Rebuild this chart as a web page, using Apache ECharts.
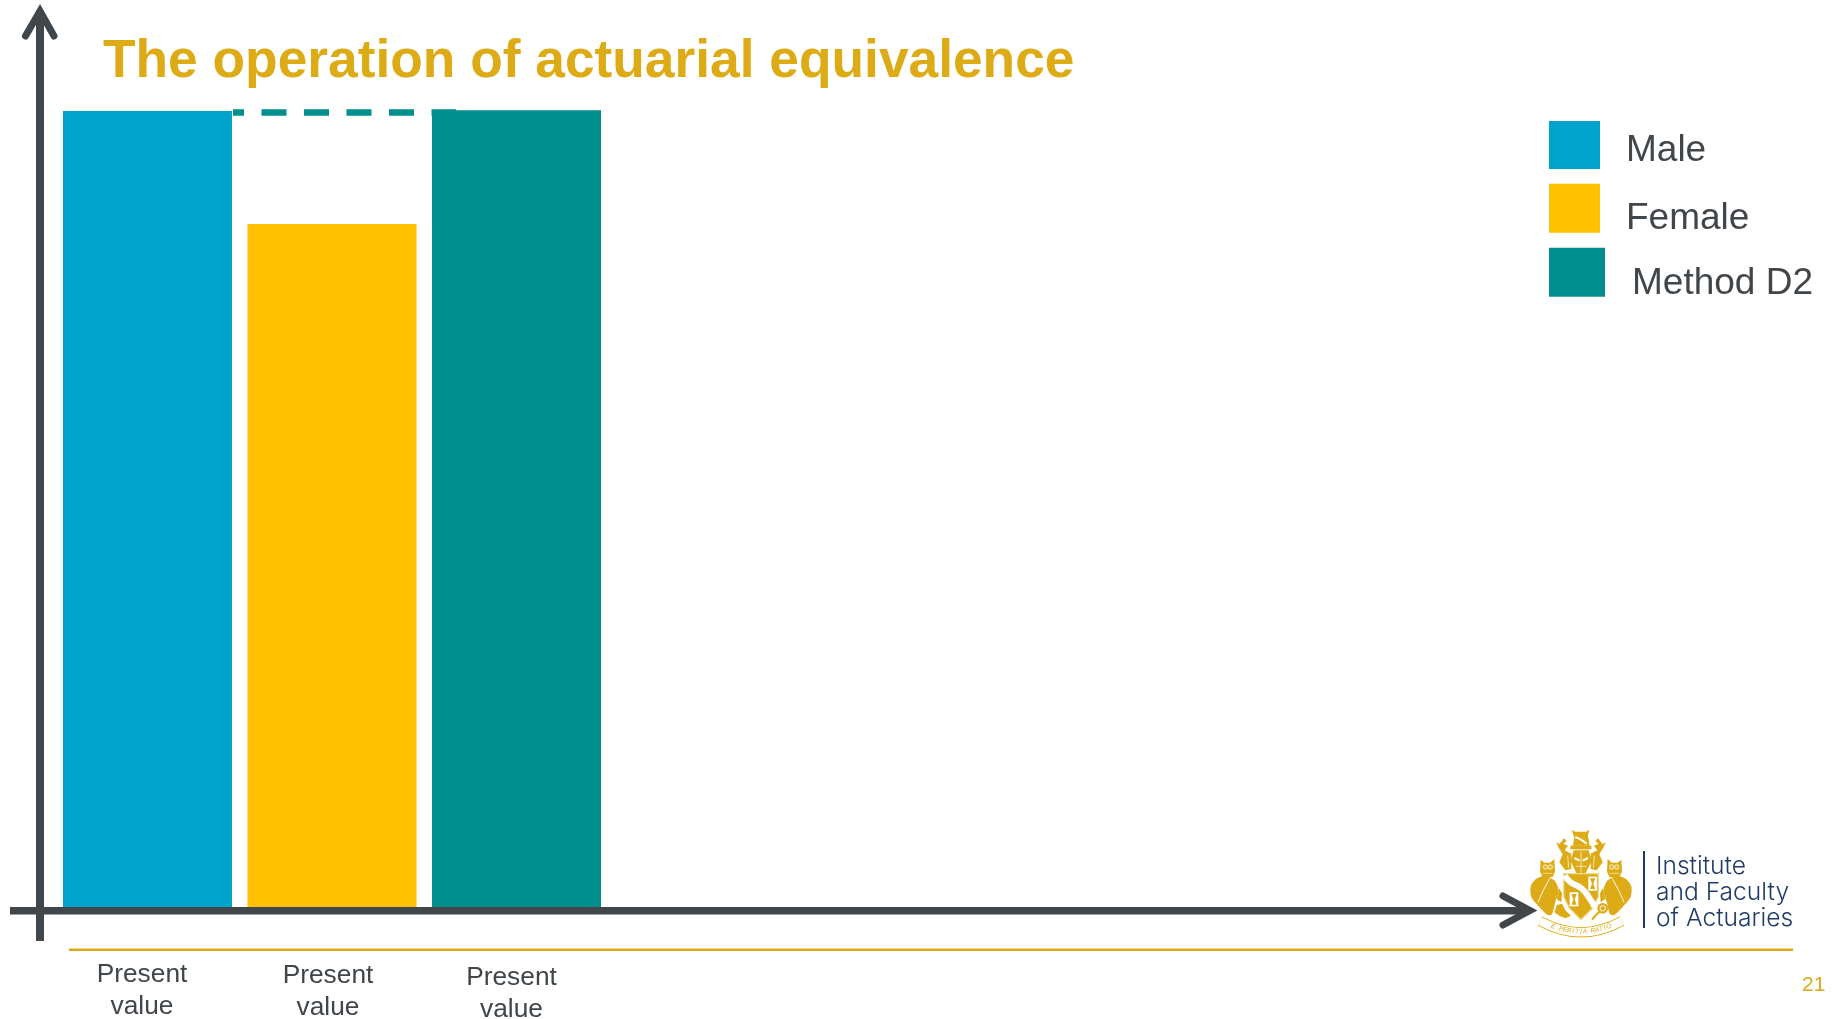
<!DOCTYPE html>
<html>
<head>
<meta charset="utf-8">
<style>html,body{margin:0;padding:0;background:#fff}#c{width:1832px;height:1019px}</style>
<script src="https://cdn.jsdelivr.net/npm/echarts@6/dist/echarts.min.js"></script>
</head>
<body>
<div id="c"></div>
<script>
// Present values, indexed to the male benefit = 100
const categories = ['Present\nvalue', 'Present\nvalue', 'Present\nvalue'];
const maleValues = [100, null, null];
const femaleValues = [null, 85.8, null];
const methodD2Values = [null, null, 100.1];
const equivalenceLevel = [99.9];

const INK = '#41464B', GOLD = '#DCAB15', NAVY = '#1F3C66';
const BLUE = '#00A3C9', AMBER = '#FFC000', TEAL = '#008F8C';
const PALE = '#F1DB92';

const chart = echarts.init(document.getElementById('c'), null, {renderer: 'canvas'});

// Mirror a point list about the crest's vertical centre line
const mirror = pts => pts.map(([x, y]) => [330 - x, y]);
const poly = (points, fill, smooth) => ({type:'polygon', shape:{points, smooth: smooth || 0}, style:{fill}});
const stroke = (points, color, lineWidth, smooth) => ({type:'polyline', shape:{points, smooth: smooth || 0}, style:{stroke:color, lineWidth, fill:null}});

// Outlines for the coat of arms, in a 336 x 342 local box
const plume = [[138,15],[148,20],[180,20],[190,14],[186,32],[191,62],[140,62],[145,40]];
const mantling = [[90,50],[100,58],[114,40],[122,48],[112,56],[126,62],[116,76],[136,86],[136,132],[118,136],[100,112],[110,88],[98,68]];
const helmet = [[143,76],[188,76],[197,108],[178,146],[165,150],[152,146],[134,108]];
const shield = [[113,146],[217,146],[217,215],[200,250],[165,284],[130,250],[113,215]];
const owlHead = [[44,104],[55,113],[72,113],[85,102],[87,140],[80,156],[50,156],[42,140]];
const owlBody = [[30,162],[56,152],[85,166],[98,196],[88,230],[78,268],[65,270],[40,246],[16,216],[14,184]];
const griffin = [[85,262],[92,240],[108,236],[118,256],[135,272],[118,280],[100,272]];
const stem = [[198,284],[212,268],[226,256]];

// Glyphs of the motto set along the ribbon's curve
const motto = 'E PERITIA RATIO';
const ribbon = {x1:42, y1:288, x2:288, y2:288, cpx1:165, cpy1:356};
const mottoGlyphs = motto.split('').map((ch, i) => {
  const t = 0.16 + 0.68 * i / (motto.length - 1);
  const u = 1 - t;
  const x = u*u*ribbon.x1 + 2*u*t*ribbon.cpx1 + t*t*ribbon.x2;
  const y = u*u*ribbon.y1 + 2*u*t*ribbon.cpy1 + t*t*ribbon.y2 - 2;
  const dx = 2*u*(ribbon.cpx1-ribbon.x1) + 2*t*(ribbon.x2-ribbon.cpx1);
  const dy = 2*u*(ribbon.cpy1-ribbon.y1) + 2*t*(ribbon.y2-ribbon.cpy1);
  return {type:'text', x, y, rotation: -Math.atan2(dy, dx),
    style:{text: ch, fill: GOLD, font:'italic 20px "Liberation Sans"', align:'center', verticalAlign:'middle'}};
});

const hourglass = (x, y) => [
  {type:'rect', shape:{x, y, width:26, height:42}, style:{fill:'#fff'}},
  poly([[x+5,y+5],[x+21,y+5],[x+15,y+21],[x+21,y+37],[x+5,y+37],[x+11,y+21]], GOLD)
];

const crest = [
  poly(plume, GOLD),
  stroke([[148,36],[165,44],[182,56]], '#fff', 6, 0.4),
  poly([[133,62],[196,62],[196,73],[133,73]], GOLD),
  poly(mantling, GOLD),
  poly(mirror(mantling), GOLD),
  stroke([[125,92],[128,128]], '#fff', 2),
  stroke([[205,92],[202,128]], '#fff', 2),
  poly(helmet, GOLD),
  stroke([[145,99],[161,107]], '#fff', 6),
  stroke([[186,99],[170,107]], '#fff', 6),
  stroke([[165,80],[165,146]], '#fff', 2),
  stroke([[150,124],[180,124]], '#fff', 2),
  // shield, with its bend and the two hourglass panels
  {type:'polygon', shape:{points:shield}, style:{fill:GOLD, stroke:PALE, lineWidth:4}},
  stroke([[116,152],[134,172],[166,190],[192,222],[206,246]], '#fff', 18, 0.5),
  ...hourglass(187,155),
  ...hourglass(131,202),
  // owls on either side
  poly(owlBody, GOLD, 0.25),
  poly(mirror(owlBody), GOLD, 0.25),
  poly(owlHead, GOLD),
  poly(mirror(owlHead), GOLD),
  ...[58,73,257,272].flatMap(cx => [
    {type:'circle', shape:{cx, cy:126, r:8}, style:{fill:PALE}},
    {type:'circle', shape:{cx, cy:126, r:3.5}, style:{fill:GOLD}}
  ]),
  stroke([[50,145],[80,145]], PALE, 3),
  stroke([[250,145],[280,145]], PALE, 3),
  stroke([[72,160],[52,196],[36,232]], '#fff', 3, 0.3),
  stroke(mirror([[72,160],[52,196],[36,232]]), '#fff', 3, 0.3),
  poly([[100,190],[108,205],[106,232],[92,222]], GOLD),
  poly(mirror([[100,190],[108,205],[106,232],[92,222]]), GOLD),
  // griffin, rose and stem at the foot of the shield
  poly(griffin, GOLD),
  stroke(stem, GOLD, 6),
  {type:'circle', shape:{cx:230, cy:250, r:16}, style:{fill:GOLD}},
  {type:'circle', shape:{cx:230, cy:250, r:8}, style:{fill:'none', stroke:'#fff', lineWidth:3}},
  // motto ribbon
  {type:'bezierCurve', shape:ribbon, style:{stroke:GOLD, lineWidth:30, fill:null}},
  {type:'bezierCurve', shape:ribbon, style:{stroke:'#fff', lineWidth:25, fill:null}},
  ...mottoGlyphs
];

const option = {
  animation: false,
  backgroundColor: '#fff',
  title: {
    text: 'The operation of actuarial equivalence',
    left: 103, top: 36, padding: 0,
    textStyle: {color: GOLD, fontFamily: '"Liberation Sans"', fontWeight: 'bold', fontSize: 53.3}
  },
  // One legend per entry, since the swatches differ slightly in size and offset.
  // An empty first text line sets each name a little below its swatch's centre.
  legend: [
    {data:['Male'], top:120.5, itemHeight:48, itemWidth:51, textStyle:{lineHeight:12, padding:[0,0,0,21]}},
    {data:['Female'], top:179.3, itemHeight:49, itemWidth:51, textStyle:{lineHeight:21, padding:[0,0,0,21]}},
    {data:['Method D2'], top:242.2, itemHeight:49, itemWidth:56, textStyle:{lineHeight:23, padding:[0,0,0,22]}}
  ].map(entry => ({
    ...entry,
    left: 1549, padding: 0, orient: 'vertical', icon: 'rect', selectedMode: false,
    formatter: name => '\n' + name,
    textStyle: {color: INK, fontFamily: '"Liberation Sans"', fontSize: 37, ...entry.textStyle}
  })),
  grid: {left: 55.25, width: 553.5, top: 31.4, height: 875.6, outerBoundsMode: 'none'},
  xAxis: {
    type: 'category',
    data: [
      {value: categories[0], textStyle: {padding: [0,11,0,0]}},
      {value: categories[1], textStyle: {padding: [1,8,0,0]}},
      {value: categories[2], textStyle: {padding: [3,10,0,0]}}
    ],
    axisLine: {show: false},
    axisTick: {show: false},
    axisLabel: {interval: 0, margin: 52, color: INK, fontFamily: '"Liberation Sans"', fontSize: 26.3, lineHeight: 32}
  },
  yAxis: {type: 'value', min: 0, max: 110, show: false, splitLine: {show: false}},
  series: [
    {name:'Male', type:'bar', stack:'pv', barWidth:169, data:maleValues, itemStyle:{color:BLUE}},
    {name:'Female', type:'bar', stack:'pv', barWidth:169, data:femaleValues, itemStyle:{color:AMBER}},
    {name:'Method D2', type:'bar', stack:'pv', barWidth:169, data:methodD2Values, itemStyle:{color:TEAL},
      // Dashed guide carrying the male level across to Method D2
      markLine: {
        silent: true, symbol: 'none', z: 5,
        label: {show: false},
        lineStyle: {color: TEAL, type: [25, 17.5], dashOffset: 14, width: 6.5, opacity: 1, cap: 'butt'},
        data: [[{x: 233, yAxis: equivalenceLevel[0]}, {x: 456, yAxis: equivalenceLevel[0]}]]
      }
    }
  ],
  graphic: {elements: [
    // Vertical axis with open arrow head
    {type:'polyline', z:20, shape:{points:[[40,941],[40,12]]}, style:{stroke:INK,lineWidth:8,fill:null}},
    {type:'polyline', z:20, shape:{points:[[25.5,36],[40,11],[54,36]]}, style:{stroke:INK,lineWidth:7,lineCap:'round',lineJoin:'miter',fill:null}},
    // Horizontal axis with open arrow head
    {type:'polyline', z:20, shape:{points:[[10,910.8],[1526,910.8]]}, style:{stroke:INK,lineWidth:7.5,fill:null}},
    {type:'polyline', z:20, shape:{points:[[1503,896],[1530,910.5],[1503,925]]}, style:{stroke:INK,lineWidth:7,lineCap:'round',lineJoin:'miter',fill:null}},
    // Footer rule and page number
    {type:'rect', z:1, shape:{x:69,y:948.5,width:1724,height:2.5}, style:{fill:GOLD}},
    {type:'text', z:1, x:1802, y:975, style:{text:'21', fill:GOLD, font:'21px "Liberation Sans"'}},
    // Institute logo
    {type:'group', z:19, x:1526, y:825, scaleX:1/3, scaleY:1/3, children: crest},
    {type:'rect', z:20, shape:{x:1643,y:851,width:2,height:77}, style:{fill:NAVY}},
    {type:'text', z:20, x:1656, y:866.5, style:{text:'Institute', fill:NAVY, font:'300 24.6px "Inter"', verticalAlign:'middle'}},
    {type:'text', z:20, x:1656, y:892.5, style:{text:'and Faculty', fill:NAVY, font:'300 24.6px "Inter"', verticalAlign:'middle'}},
    {type:'text', z:20, x:1656, y:918.5, style:{text:'of Actuaries', fill:NAVY, font:'300 24.6px "Inter"', verticalAlign:'middle'}}
  ]}
};
chart.setOption(option);
</script>
</body>
</html>
